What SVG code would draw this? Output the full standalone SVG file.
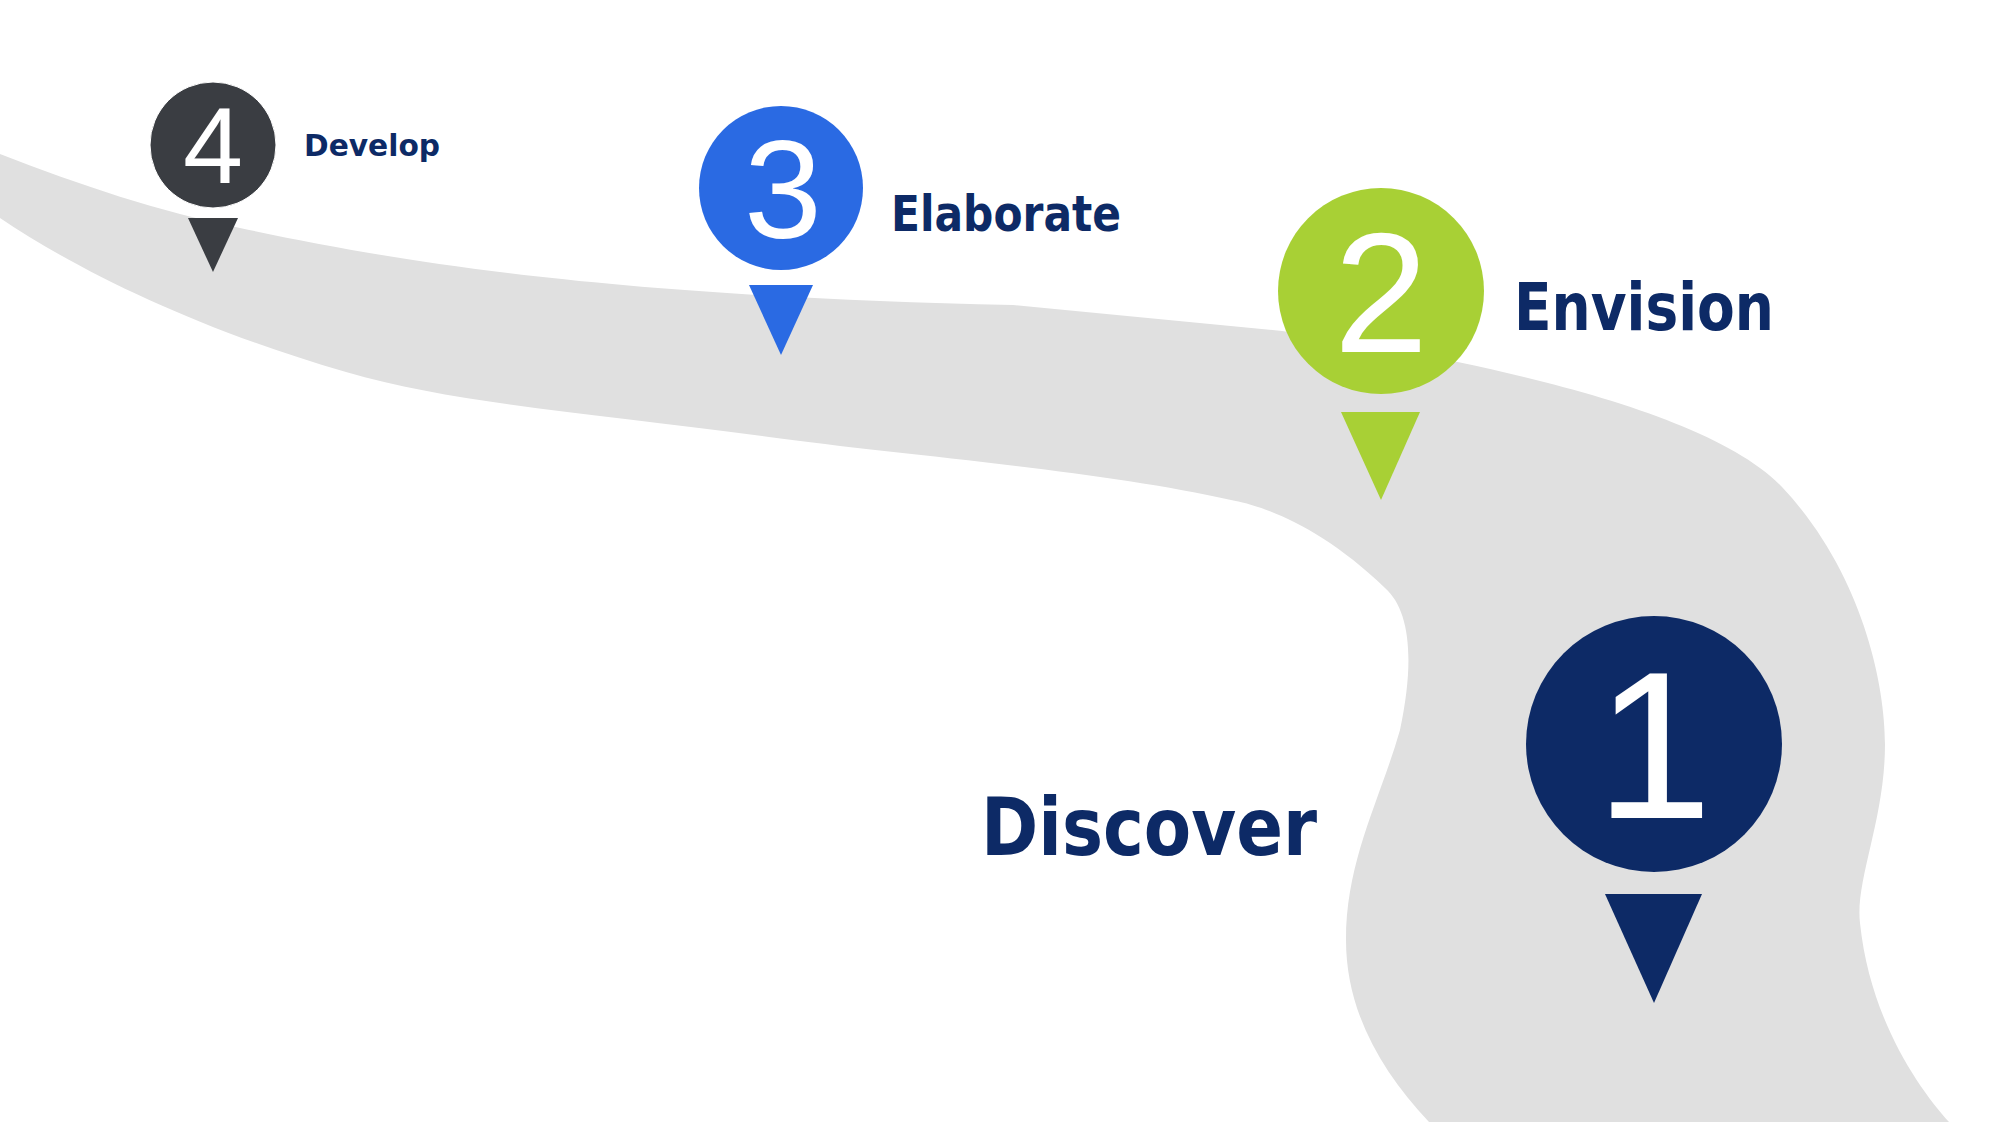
<svg xmlns="http://www.w3.org/2000/svg" width="2000" height="1122" viewBox="0 0 2000 1122">
<style>
.lbl{font-family:"DejaVu Sans",sans-serif;font-weight:900;fill:#0d2a66}
.num{font-family:"Liberation Sans",sans-serif;fill:#fff;text-anchor:middle}
</style>
<rect width="2000" height="1122" fill="#fff"/>
<g id="road">
<path d="M0,154 C80,185 160,212 240,228 C400,262 600,296 1013,305 L1282,331 C1420,352 1700,400 1782,487 C1860,570 1885,680 1885,744 C1885,820 1855,880 1860,923 C1870,1020 1920,1090 1949,1122 L1429,1122 C1380,1070 1346,1010 1346,940 C1346,860 1380,800 1400,730 C1415,660 1410,610 1385,588 C1320,525 1260,505 1231,500 C1100,470 900,455 769,437 C600,414 460,405 346,372 C200,330 80,272 0,218 Z" fill="#e0e0e0"/>
</g>
<g id="pin4">
<polygon points="188,218 238,218 213,272" fill="#3a3d42"/>
<circle cx="213" cy="145" r="63" fill="#3a3d42"/>
<circle cx="213" cy="145" r="63" fill="none" stroke="#fff" stroke-width="1"/>
<text class="num" x="213" y="183" font-size="108">4</text>
<text class="lbl" x="304" y="156" font-size="31" textLength="136" lengthAdjust="spacingAndGlyphs">Develop</text>
</g>
<g id="pin3">
<polygon points="749,285 813,285 781,355" fill="#2a6ae3"/>
<circle cx="781" cy="188" r="82" fill="#2a6ae3"/>
<text class="num" x="783" y="238" font-size="140">3</text>
<text class="lbl" x="891" y="231" font-size="50" textLength="230" lengthAdjust="spacingAndGlyphs">Elaborate</text>
</g>
<g id="pin2">
<polygon points="1341,412 1420,412 1381,500" fill="#a8d035"/>
<circle cx="1381" cy="291" r="103" fill="#a8d035"/>
<text class="num" x="1381" y="352" font-size="170">2</text>
<text class="lbl" x="1514" y="330" font-size="66" textLength="260" lengthAdjust="spacingAndGlyphs">Envision</text>
</g>
<g id="pin1">
<polygon points="1605,894 1702,894 1654,1003" fill="#0d2a66"/>
<circle cx="1654" cy="744" r="128" fill="#0d2a66"/>
<text class="num" x="1654" y="818" font-size="210">1</text>
<text class="lbl" x="981" y="855" font-size="80" textLength="336" lengthAdjust="spacingAndGlyphs">Discover</text>
</g>
</svg>
